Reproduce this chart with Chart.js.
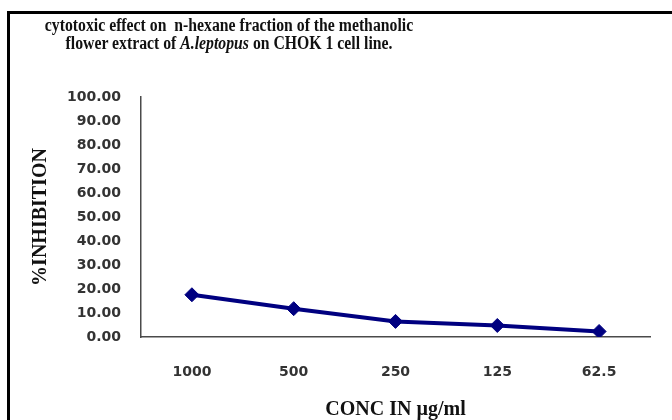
<!DOCTYPE html>
<html lang="en">
<head>
    <meta charset="UTF-8">
    <title>Cytotoxic effect on CHOK 1 cell line</title>
    <script src="https://cdn.jsdelivr.net/npm/chart.js"></script>
    <style>
        body {
            margin: 0;
            background: #fff;
        }

        #wrap {
            position: relative;
            width: 672px;
            height: 420px;
            overflow: hidden;
        }

        /* black frame, left and top edges only (rest is cropped in the scan) */
        #frame {
            position: absolute;
            left: 7px;
            top: 11px;
            width: 700px;
            height: 500px;
            border-left: 3px solid #000;
            border-top: 3px solid #000;
            pointer-events: none;
        }

        #title {
            position: absolute;
            left: 0;
            top: 16px;
            width: 458px;
            text-align: center;
            font-family: "Liberation Serif", serif;
            font-weight: bold;
            font-size: 18px;
            line-height: 18px;
            color: #111;
            transform: scaleX(0.875);
            transform-origin: 229px 0;
            white-space: nowrap;
        }

        canvas {
            position: absolute;
            left: 0;
            top: 0;
        }
    </style>
</head>
<body>
    <div id="wrap">
        <canvas id="chart" width="672" height="420"></canvas>
        <div id="title">
            cytotoxic effect on &nbsp;n-hexane fraction of the methanolic<br>
            flower extract of <i>A.leptopus</i> on CHOK 1 cell line.
        </div>
        <div id="frame"></div>
    </div>

    <script>
        const concentrations = ['1000', '500', '250', '125', '62.5'];
        const inhibition = [17.6, 11.8, 6.5, 4.8, 2.3];
        const yMin = 0;
        const yMax = 100;
        const yStep = 10;

        const ctx = document.getElementById('chart').getContext('2d');

        new Chart(ctx, {
            type: 'line',
            data: {
                labels: concentrations,
                datasets: [{
                    data: inhibition,
                    borderColor: '#000080',
                    backgroundColor: '#000080',
                    borderWidth: 4,
                    pointStyle: 'rectRot',
                    pointRadius: 7,
                    pointHoverRadius: 7,
                    pointBorderWidth: 1,
                    tension: 0
                }]
            },
            options: {
                responsive: false,
                animation: false,
                layout: {
                    padding: { left: 0, top: 97, right: 22, bottom: 0 }
                },
                plugins: {
                    legend: { display: false },
                    tooltip: { enabled: false }
                },
                scales: {
                    x: {
                        offset: true,
                        grid: { color: 'transparent', drawTicks: false },
                        border: { display: true, color: '#4a4a4a', width: 1.5 },
                        ticks: {
                            padding: 27,
                            color: '#333',
                            font: { family: 'DejaVu Sans', weight: 'bold', size: 14 }
                        },
                        title: {
                            display: true,
                            text: 'CONC IN µg/ml',
                            color: '#111',
                            padding: 0,
                            font: { family: 'Liberation Serif', weight: 'bold', size: 20, lineHeight: 1 }
                        },
                        afterFit: function(scale) {
                            scale.height = 83;
                        }
                    },
                    y: {
                        min: yMin,
                        max: yMax,
                        grid: { color: 'transparent', drawTicks: false },
                        border: { display: true, color: '#4a4a4a', width: 1.5 },
                        ticks: {
                            stepSize: yStep,
                            padding: 20,
                            color: '#333',
                            font: { family: 'DejaVu Sans', weight: 'bold', size: 14 },
                            callback: function(value) {
                                return value.toFixed(2);
                            }
                        },
                        title: {
                            display: true,
                            text: '%INHIBITION',
                            color: '#111',
                            padding: 31,
                            font: { family: 'Liberation Serif', weight: 'bold', size: 20, lineHeight: 1 }
                        },
                        afterFit: function(scale) {
                            scale.width = 141;
                        }
                    }
                }
            }
        });
    </script>
</body>
</html>
